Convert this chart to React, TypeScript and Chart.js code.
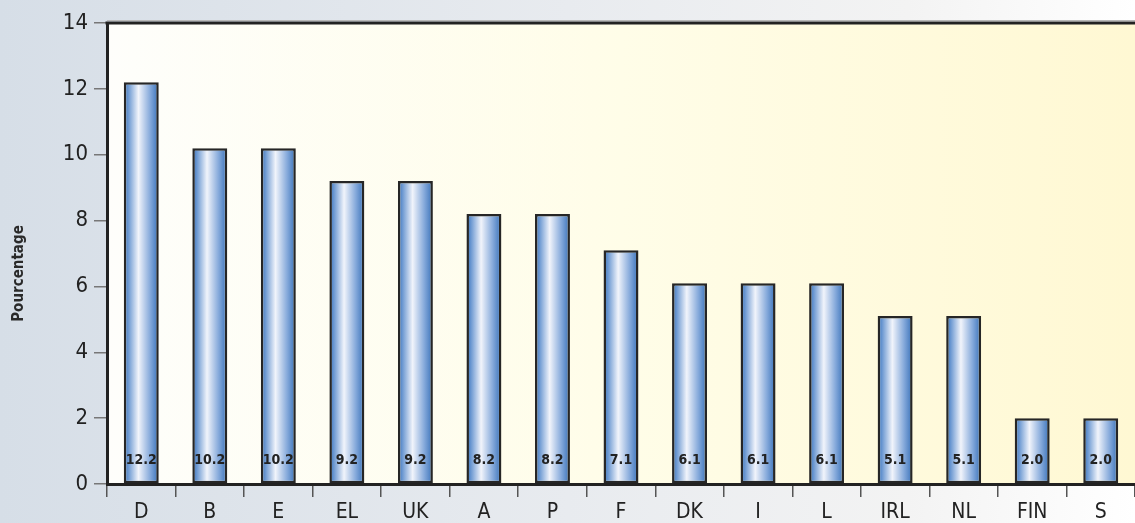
import React, { useEffect, useRef } from "react";
import { Chart, registerables } from "chart.js";

Chart.register(...registerables);

const categories = ["D", "B", "E", "EL", "UK", "A", "P", "F", "DK", "I", "L", "IRL", "NL", "FIN", "S"];
const values = [12.2, 10.2, 10.2, 9.2, 9.2, 8.2, 8.2, 7.1, 6.1, 6.1, 6.1, 5.1, 5.1, 2.0, 2.0];
const valueLabels = ["12.2", "10.2", "10.2", "9.2", "9.2", "8.2", "8.2", "7.1", "6.1", "6.1", "6.1", "5.1", "5.1", "2.0", "2.0"];
const yTitle = "Pourcentage";

const FONT = "'DejaVu Sans Condensed', 'Liberation Sans Narrow', 'Open Sans', sans-serif";
const BAR_PCT = 0.51;

const backgroundPlugin = {
  id: "bgPlugin",
  beforeDraw(chart: any) {
    const { ctx, width, height, chartArea } = chart;
    ctx.save();
    const g = ctx.createLinearGradient(0, 0, width, 0);
    g.addColorStop(0, "#d6dee7");
    g.addColorStop(0.5, "#e8ebef");
    g.addColorStop(0.8, "#f3f3f3");
    g.addColorStop(1, "#ffffff");
    ctx.fillStyle = g;
    ctx.fillRect(0, 0, width, height);
    const g2 = ctx.createLinearGradient(chartArea.left, 0, chartArea.right, 0);
    g2.addColorStop(0, "#fefefb");
    g2.addColorStop(0.5, "#fffde8");
    g2.addColorStop(1, "#fff8d3");
    ctx.fillStyle = g2;
    ctx.fillRect(chartArea.left, chartArea.top, chartArea.right - chartArea.left, chartArea.bottom - chartArea.top);
    ctx.restore();
  },
  afterDraw(chart: any) {
    const { ctx, chartArea } = chart;
    ctx.save();
    ctx.strokeStyle = "#b8b8b8";
    ctx.lineWidth = 1;
    ctx.beginPath();
    ctx.moveTo(chartArea.left, chartArea.top - 2.5);
    ctx.lineTo(chartArea.right, chartArea.top - 2.5);
    ctx.stroke();
    ctx.strokeStyle = "#222222";
    ctx.lineWidth = 3;
    ctx.beginPath();
    ctx.moveTo(chartArea.left - 1.5, chartArea.top);
    ctx.lineTo(chartArea.right, chartArea.top);
    ctx.stroke();
    // y-axis title
    const cy = (chartArea.top + chartArea.bottom) / 2 + 20;
    ctx.translate(19, cy);
    ctx.rotate(-Math.PI / 2);
    ctx.font = `bold 15px ${FONT}`;
    ctx.fillStyle = "#2a2a2a";
    ctx.textAlign = "center";
    ctx.textBaseline = "middle";
    ctx.fillText(yTitle, 0, 0);
    ctx.restore();
  },
};

const valueLabelPlugin = {
  id: "valueLabels",
  afterDatasetsDraw(chart: any) {
    const { ctx } = chart;
    const meta = chart.getDatasetMeta(0);
    const y0 = chart.scales.y.getPixelForValue(0);
    ctx.save();
    ctx.font = `bold 14px ${FONT}`;
    ctx.fillStyle = "#222222";
    ctx.textAlign = "center";
    ctx.textBaseline = "middle";
    meta.data.forEach((el: any, i: number) => {
      ctx.fillText(valueLabels[i], el.x, y0 - 24);
    });
    ctx.restore();
  },
};

export default function App() {
  const ref = useRef<HTMLCanvasElement | null>(null);
  useEffect(() => {
    if (!ref.current) return;
    const chart = new Chart(ref.current, {
      type: "bar",
      data: {
        labels: categories,
        datasets: [
          {
            data: values,
            borderColor: "#262626",
            borderWidth: 2.5,
            borderSkipped: false,
            categoryPercentage: 1,
            barPercentage: BAR_PCT,
            backgroundColor: (c: any) => {
              const chartObj = c.chart;
              const xs = chartObj.scales && chartObj.scales.x;
              if (!xs || c.dataIndex === undefined) return "#5b8fd0";
              const cx = xs.getPixelForValue(c.dataIndex);
              const hw = ((xs.right - xs.left) / categories.length) * BAR_PCT / 2;
              if (!isFinite(cx) || !isFinite(hw) || hw <= 0) return "#5b8fd0";
              const g = chartObj.ctx.createLinearGradient(cx - hw, 0, cx + hw, 0);
              g.addColorStop(0, "#3a70b8");
              g.addColorStop(0.12, "#6795d0");
              g.addColorStop(0.42, "#f1f4fb");
              g.addColorStop(0.75, "#86aadb");
              g.addColorStop(1, "#3770b8");
              return g;
            },
          },
        ],
      },
      options: {
        animation: false,
        responsive: false,
        maintainAspectRatio: false,
        layout: { padding: { top: 23, right: 0, left: 0, bottom: 0 } },
        plugins: { legend: { display: false }, tooltip: { enabled: false } },
        scales: {
          x: {
            grid: { drawOnChartArea: false, drawTicks: true, tickLength: 13, color: "#555555", lineWidth: 1.5, offset: true },
            border: { color: "#222222", width: 3 },
            ticks: { color: "#222222", font: { family: FONT, size: 21 }, padding: 3 },
            afterFit: (s: any) => {
              s.height = 39;
            },
          },
          y: {
            min: 0,
            max: 14,
            ticks: { stepSize: 2, color: "#222222", font: { family: FONT, size: 22 }, padding: 6 },
            grid: { drawOnChartArea: false, drawTicks: true, tickLength: 13, color: "#777777", lineWidth: 1.5 },
            border: { color: "#222222", width: 3 },
            title: { display: false },
            afterFit: (s: any) => {
              s.width = 107;
            },
          },
        },
      },
      plugins: [backgroundPlugin, valueLabelPlugin],
    });
    return () => chart.destroy();
  }, []);
  return (
    <div style={{ position: "absolute", left: 0, top: 0, width: 1135, height: 523 }}>
      <canvas ref={ref} width={1135} height={523} />
    </div>
  );
}
